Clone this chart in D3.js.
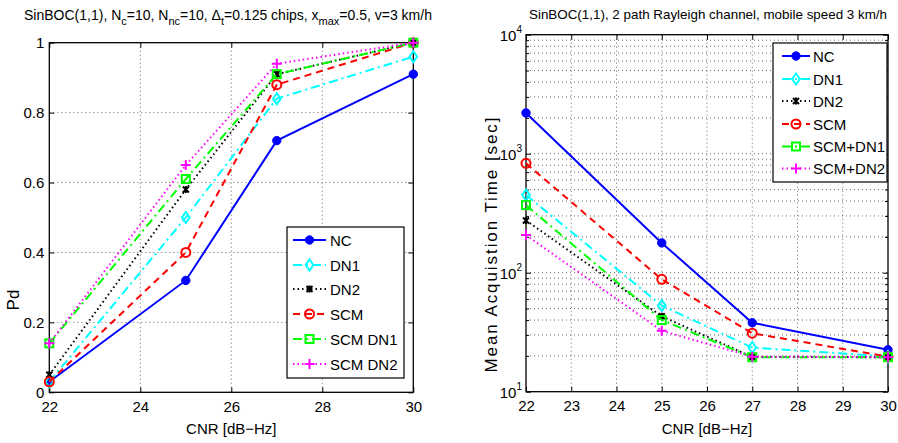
<!DOCTYPE html>
<html><head><meta charset="utf-8">
<script src="https://cdn.jsdelivr.net/npm/d3@7"></script>
<style>
body{margin:0;background:#fff;}
svg{font-family:"Liberation Sans",Arial,Helvetica,sans-serif;}
</style></head>
<body><svg id="c" width="898" height="443"></svg>
<script>
// ---------- DATA ----------
const cnrLeft = [22, 25, 27, 30];
const seriesNamesLeft = ["NC", "DN1", "DN2", "SCM", "SCM DN1", "SCM DN2"];
const pdNC     = [0.03, 0.32, 0.72, 0.91];
const pdDN1    = [0.03, 0.50, 0.84, 0.96];
const pdDN2    = [0.05, 0.58, 0.91, 1.00];
const pdSCM    = [0.03, 0.40, 0.88, 1.00];
const pdSCMDN1 = [0.14, 0.61, 0.91, 1.00];
const pdSCMDN2 = [0.14, 0.65, 0.94, 1.00];
const leftXTicks = [22, 24, 26, 28, 30];
const leftYTicks = [0, 0.2, 0.4, 0.6, 0.8, 1];

const cnrRight = [22, 25, 27, 30];
const seriesNamesRight = ["NC", "DN1", "DN2", "SCM", "SCM+DN1", "SCM+DN2"];
const mtNC     = [2200, 178, 38, 22.5];
const mtDN1    = [450, 53, 23.5, 19.8];
const mtDN2    = [275, 43, 19.6, 19.5];
const mtSCM    = [830, 88, 31, 19.7];
const mtSCMDN1 = [370, 40, 19.5, 19.5];
const mtSCMDN2 = [207, 32.5, 19.7, 19.5];
const rightXTicks = [22, 23, 24, 25, 26, 27, 28, 29, 30];
const rightYExps = [1, 2, 3, 4];

// ---------- STYLES ----------
const styles = [
  {color:"#0000ff", dash:null,        marker:"dot"},
  {color:"#00ffff", dash:"9,4,2,4",   marker:"diamond"},
  {color:"#000000", dash:"1.5,3",     marker:"x"},
  {color:"#ff0000", dash:"7,5",       marker:"circle"},
  {color:"#00ff00", dash:"9,4,2,4",   marker:"square"},
  {color:"#ff00ff", dash:"1.5,3",     marker:"plus"}
];

const svg = d3.select("#c");
const FS = 14, TFS = 15;

function drawMarker(g, type, x, y, color){
  if(type==="dot"){
    g.append("circle").attr("cx",x).attr("cy",y).attr("r",4.2).attr("fill",color).attr("stroke",color);
  } else if(type==="circle"){
    g.append("circle").attr("cx",x).attr("cy",y).attr("r",4.5).attr("fill","none").attr("stroke",color).attr("stroke-width",2);
  } else if(type==="diamond"){
    const s=5.5;
    g.append("path").attr("d",`M${x},${y-s}L${x+s*0.7},${y}L${x},${y+s}L${x-s*0.7},${y}Z`).attr("fill","none").attr("stroke",color).attr("stroke-width",2);
  } else if(type==="square"){
    g.append("rect").attr("x",x-4).attr("y",y-4).attr("width",8).attr("height",8).attr("fill","none").attr("stroke",color).attr("stroke-width",2);
  } else if(type==="x"){
    const s=3;
    g.append("path").attr("d",`M${x-s},${y-s}L${x+s},${y+s}M${x-s},${y+s}L${x+s},${y-s}M${x},${y-s-0.5}L${x},${y+s+0.5}`).attr("stroke",color).attr("stroke-width",2);
  } else if(type==="plus"){
    const s=5;
    g.append("path").attr("d",`M${x-s},${y}L${x+s},${y}M${x},${y-s}L${x},${y+s}`).attr("stroke",color).attr("stroke-width",2);
  }
}

function drawSeries(g, xs, ys, x, y, st){
  const line = d3.line().x((d,i)=>x(xs[i])).y(d=>y(d));
  const p = g.append("path").datum(ys).attr("d",line).attr("fill","none")
    .attr("stroke",st.color).attr("stroke-width",2);
  if(st.dash) p.attr("stroke-dasharray",st.dash);
  ys.forEach((v,i)=>drawMarker(g, st.marker, x(xs[i]), y(v), st.color));
}

function drawLegend(g, names, x0, y0, w, h, rowY, lineX0, lineX1, textX){
  g.append("rect").attr("x",x0).attr("y",y0).attr("width",w).attr("height",h)
    .attr("fill","#fff").attr("stroke","#000").attr("stroke-width",1.2);
  names.forEach((n,i)=>{
    const st=styles[i]; const yy=rowY[i];
    const l=g.append("line").attr("x1",lineX0).attr("x2",lineX1).attr("y1",yy).attr("y2",yy)
      .attr("stroke",st.color).attr("stroke-width",2);
    if(st.dash) l.attr("stroke-dasharray",st.dash);
    drawMarker(g, st.marker, (lineX0+lineX1)/2, yy, st.color);
    g.append("text").attr("x",textX).attr("y",yy+5.5).attr("font-size",15).text(n);
  });
}

// ---------- LEFT PANEL ----------
(function(){
  const L=49.3, R=413.3, T=42.7, B=392.3;
  const x=d3.scaleLinear().domain([22,30]).range([L,R]);
  const y=d3.scaleLinear().domain([0,1]).range([B,T]);
  const g=svg.append("g");
  leftXTicks.slice(1,-1).forEach(t=>g.append("line").attr("x1",x(t)).attr("x2",x(t)).attr("y1",T).attr("y2",B)
    .attr("stroke","#444").attr("stroke-width",0.8).attr("stroke-dasharray","1,3"));
  leftYTicks.slice(1,-1).forEach(t=>g.append("line").attr("x1",L).attr("x2",R).attr("y1",y(t)).attr("y2",y(t))
    .attr("stroke","#444").attr("stroke-width",0.8).attr("stroke-dasharray","1,3"));
  const ax=g.append("g").attr("transform",`translate(0,${B})`).call(d3.axisBottom(x).tickValues(leftXTicks).tickSize(-5).tickPadding(9).tickFormat(d3.format("d")));
  const axT=g.append("g").attr("transform",`translate(0,${T})`).call(d3.axisTop(x).tickValues(leftXTicks).tickSize(-5).tickFormat(""));
  const ay=g.append("g").attr("transform",`translate(${L},0)`).call(d3.axisLeft(y).tickValues(leftYTicks).tickSize(-5).tickPadding(5).tickFormat(d=>d===0||d===1?d3.format("d")(d):d3.format(".1f")(d)));
  const ayR=g.append("g").attr("transform",`translate(${R},0)`).call(d3.axisRight(y).tickValues(leftYTicks).tickSize(-5).tickFormat(""));
  [ax,axT,ay,ayR].forEach(a=>{a.select(".domain").remove();a.selectAll("line").attr("stroke","#000");
    a.selectAll("text").attr("font-size",TFS).attr("font-family","Liberation Sans, Arial, sans-serif").attr("fill","#000");});
  g.append("rect").attr("x",L).attr("y",T).attr("width",R-L).attr("height",B-T).attr("fill","none").attr("stroke","#000").attr("stroke-width",1.3);
  const data=[pdNC,pdDN1,pdDN2,pdSCM,pdSCMDN1,pdSCMDN2];
  data.forEach((d,i)=>drawSeries(g,cnrLeft,d,x,y,styles[i]));
  g.append("text").attr("x",(L+R)/2).attr("y",434).attr("text-anchor","middle").attr("font-size",15).text("CNR [dB\u2212Hz]");
  g.append("text").attr("transform",`translate(19,300) rotate(-90)`).attr("text-anchor","middle").attr("font-size",17).text("Pd");
  const t=g.append("text").attr("x",228).attr("y",20).attr("text-anchor","middle").attr("font-size",FS);
  const parts=[["SinBOC(1,1), N",0],["c",1],["=10, N",0],["nc",1],["=10, \u0394",0],["t",1],["=0.125 chips, x",0],["max",1],["=0.5, v=3 km/h",0]];
  let prev=0;
  parts.forEach(([s,sub])=>{
    const ts=t.append("tspan").text(s);
    if(sub){ts.attr("font-size",11).attr("dy",5);} else {ts.attr("dy",prev?-5:0);}
    prev=sub;
  });
  drawLegend(g, seriesNamesLeft, 287, 227, 117, 151, [240,265,289,314,339,364], 293, 326, 330);
})();

// ---------- RIGHT PANEL ----------
(function(){
  const L=526, R=888, T=34.7, B=391.7;
  const x=d3.scaleLinear().domain([22,30]).range([L,R]);
  const y=d3.scaleLog().domain([10,10000]).range([B,T]);
  const g=svg.append("g");
  const minor=[];
  [10,100,1000].forEach(d=>{for(let k=2;k<=9;k++)minor.push(d*k);});
  const major=rightYExps.map(e=>Math.pow(10,e));
  rightXTicks.slice(1,-1).forEach(t=>g.append("line").attr("x1",x(t)).attr("x2",x(t)).attr("y1",T).attr("y2",B)
    .attr("stroke","#444").attr("stroke-width",0.8).attr("stroke-dasharray","1,3"));
  minor.concat(major.slice(1,-1)).forEach(t=>g.append("line").attr("x1",L).attr("x2",R).attr("y1",y(t)).attr("y2",y(t))
    .attr("stroke","#444").attr("stroke-width",0.8).attr("stroke-dasharray","1,3"));
  const ax=g.append("g").attr("transform",`translate(0,${B})`).call(d3.axisBottom(x).tickValues(rightXTicks).tickSize(-5).tickPadding(9).tickFormat(d3.format("d")));
  const axT=g.append("g").attr("transform",`translate(0,${T})`).call(d3.axisTop(x).tickValues(rightXTicks).tickSize(-5).tickFormat(""));
  const ayM=g.append("g").attr("transform",`translate(${L},0)`).call(d3.axisLeft(y).tickValues(major).tickSize(-5).tickFormat(""));
  const aym=g.append("g").attr("transform",`translate(${L},0)`).call(d3.axisLeft(y).tickValues(minor).tickSize(-3).tickFormat(""));
  const ayMR=g.append("g").attr("transform",`translate(${R},0)`).call(d3.axisRight(y).tickValues(major).tickSize(-5).tickFormat(""));
  const aymR=g.append("g").attr("transform",`translate(${R},0)`).call(d3.axisRight(y).tickValues(minor).tickSize(-3).tickFormat(""));
  [ax,axT,ayM,aym,ayMR,aymR].forEach(a=>{a.select(".domain").remove();a.selectAll("line").attr("stroke","#000");
    a.selectAll("text").attr("font-size",TFS).attr("font-family","Liberation Sans, Arial, sans-serif").attr("fill","#000");});
  rightYExps.forEach(e=>{
    const t=g.append("text").attr("x",L-4).attr("y",y(Math.pow(10,e))+6).attr("text-anchor","end").attr("font-size",TFS);
    t.append("tspan").text("10");
    t.append("tspan").attr("font-size",10).attr("dy",-8).text(e);
  });
  g.append("rect").attr("x",L).attr("y",T).attr("width",R-L).attr("height",B-T).attr("fill","none").attr("stroke","#000").attr("stroke-width",1.3);
  const data=[mtNC,mtDN1,mtDN2,mtSCM,mtSCMDN1,mtSCMDN2];
  data.forEach((d,i)=>drawSeries(g,cnrRight,d,x,y,styles[i]));
  g.append("text").attr("x",(L+R)/2).attr("y",434).attr("text-anchor","middle").attr("font-size",15).text("CNR [dB\u2212Hz]");
  g.append("text").attr("transform",`translate(497,245) rotate(-90)`).attr("text-anchor","middle").attr("font-size",17)
    .attr("textLength",255).attr("lengthAdjust","spacing").text("Mean Acquistion Time [sec]");
  g.append("text").attr("x",529).attr("y",19).attr("font-size",13.4)
    .text("SinBOC(1,1), 2 path Rayleigh channel, mobile speed 3 km/h");
  drawLegend(g, seriesNamesRight, 773, 43, 114, 139, [56,79,101,124,146.5,168.5], 782, 810, 813);
})();
</script></body></html>
